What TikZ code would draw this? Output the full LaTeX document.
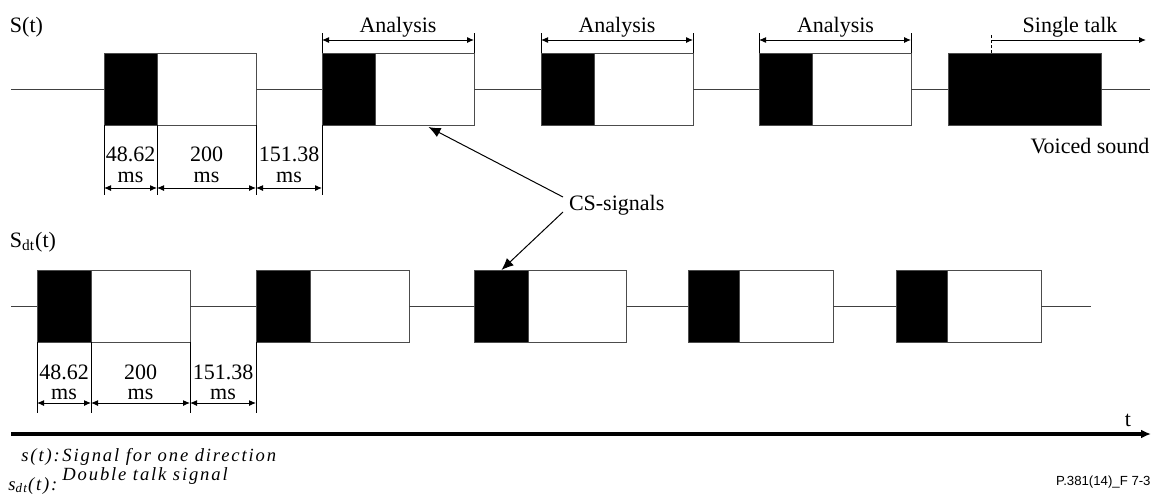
\documentclass[tikz,border=0pt]{standalone}
\usepackage{fontspec}
\setmainfont{Liberation Serif}
\newfontfamily\sansf{Liberation Sans}
\newfontfamily\legf[LetterSpace=10]{Liberation Serif}
\usetikzlibrary{arrows.meta,calc}
\begin{document}
\begin{tikzpicture}[x=0.5pt,y=-0.5pt,
  lbl/.style={font=\fontsize{11}{12}\selectfont, inner sep=0pt, outer sep=0pt},
  leg/.style={anchor=base west, inner sep=0pt, font=\legf\itshape\fontsize{9.3}{10}\selectfont},
  sig/.style={draw=black!75, line width=0.5pt},
  blk/.style={draw=black!70, fill=black, line width=0.5pt, minimum height=36pt, inner sep=0pt, outer sep=0pt, anchor=west},
  wht/.style={draw=black!70, fill=white, line width=0.5pt, minimum height=36pt, inner sep=0pt, outer sep=0pt, anchor=west},
  dimarr/.style={line width=0.5pt, {Latex[length=3.5pt,width=3pt]}-{Latex[length=3.5pt,width=3pt]}},
  extl/.style={line width=0.5pt},
  callout/.style={line width=0.5pt, -{Latex[length=6pt,width=5pt]}}]
\useasboundingbox (0,0) rectangle (1151,493);

% ---------- top row S(t) ----------
\node[lbl, anchor=base west] (St) at (10,32.5) {S(t)};
\coordinate (ts) at (11,89);
\coordinate (te) at (1150,89);
\node[blk, minimum width=26.5pt] (tb1) at (104,89) {};
\node[wht, minimum width=49.5pt] (tw1) at (tb1.east) {};
\node[blk, minimum width=26.5pt] (tb2) at (322,89) {};
\node[wht, minimum width=49.5pt] (tw2) at (tb2.east) {};
\node[blk, minimum width=26.5pt] (tb3) at (541,89) {};
\node[wht, minimum width=49.5pt] (tw3) at (tb3.east) {};
\node[blk, minimum width=26.5pt] (tb4) at (759,89) {};
\node[wht, minimum width=49.5pt] (tw4) at (tb4.east) {};
\node[blk, minimum width=76.5pt] (tb5) at (948,89) {};
\draw[sig] (ts) -- (tb1.west);
\draw[sig] (tw1.east) -- (tb2.west);
\draw[sig] (tw2.east) -- (tb3.west);
\draw[sig] (tw3.east) -- (tb4.west);
\draw[sig] (tw4.east) -- (tb5.west);
\draw[sig] (tb5.east) -- (te);

% dimensions top
\draw[extl] (tb1.south west) -- ++(0,70);
\draw[extl] (tb1.south east) -- ++(0,70);
\draw[extl] (tw1.south east) -- ++(0,70);
\draw[extl] (tb2.south west) -- ++(0,70);
\draw[dimarr] ($(tb1.south west)+(0,63)$) -- ($(tb1.south east)+(0,63)$);
\draw[dimarr] ($(tb1.south east)+(0,63)$) -- ($(tw1.south east)+(0,63)$);
\draw[dimarr] ($(tw1.south east)+(0,63)$) -- ($(tb2.south west)+(0,63)$);
\node[lbl, anchor=base] (td1a) at (130.5,161.5) {48.62};
\node[lbl, anchor=base] (td1b) at (130.5,182) {ms};
\node[lbl, anchor=base] (td2a) at (206.5,161.5) {200};
\node[lbl, anchor=base] (td2b) at (206.5,182) {ms};
\node[lbl, anchor=base] (td3a) at (289,161.5) {151.38};
\node[lbl, anchor=base] (td3b) at (289,182) {ms};

% analysis
\foreach \b/\w/\n in {tb2/tw2/a1, tb3/tw3/a2, tb4/tw4/a3}{
  \draw[extl] (\b.north west) -- ++(0,-20);
  \draw[extl] (\w.north east) -- ++(0,-20);
  \draw[dimarr] ($(\b.north west)+(0,-13)$) -- ($(\w.north east)+(0,-13)$);
}
\node[lbl, anchor=base] (an1) at (398,32.5) {Analysis};
\node[lbl, anchor=base] (an2) at (617,32.5) {Analysis};
\node[lbl, anchor=base] (an3) at (835.5,32.5) {Analysis};

% single talk
\coordinate (stk) at ($(tb5.north west)+(43,0)$);
\coordinate (stt) at ($(stk)+(0,-18)$);
\coordinate (ste) at (1146,40);
\draw[extl, dash pattern=on 1.5pt off 1pt] (stk) -- (stt);
\draw[line width=0.5pt, -{Latex[length=3.5pt,width=3pt]}] ($(stk)+(0,-13)$) -- (ste);
\node[lbl, anchor=base] (stl) at (1070,32.5) {Single talk};
\node[lbl, anchor=base] (vs) at (1090,153.5) {Voiced sound};

% ---------- bottom row S_dt(t) ----------
\node[lbl, anchor=base west] (Sdt) at (10,247.5) {S\textsubscript{dt}(t)};
\coordinate (bs) at (11,306);
\coordinate (be) at (1091,306);
\node[blk, minimum width=27pt] (bb1) at (37,306) {};
\node[wht, minimum width=49.5pt] (bw1) at (bb1.east) {};
\node[blk, minimum width=27pt] (bb2) at (256,306) {};
\node[wht, minimum width=49.5pt] (bw2) at (bb2.east) {};
\node[blk, minimum width=27pt] (bb3) at (474.5,306) {};
\node[wht, minimum width=49pt] (bw3) at (bb3.east) {};
\node[blk, minimum width=25.5pt] (bb4) at (688,306) {};
\node[wht, minimum width=47pt] (bw4) at (bb4.east) {};
\node[blk, minimum width=25.5pt] (bb5) at (896,306) {};
\node[wht, minimum width=47pt] (bw5) at (bb5.east) {};
\draw[sig] (bs) -- (bb1.west);
\draw[sig] (bw1.east) -- (bb2.west);
\draw[sig] (bw2.east) -- (bb3.west);
\draw[sig] (bw3.east) -- (bb4.west);
\draw[sig] (bw4.east) -- (bb5.west);
\draw[sig] (bw5.east) -- (be);

% dimensions bottom
\draw[extl] (bb1.south west) -- ++(0,71);
\draw[extl] (bb1.south east) -- ++(0,71);
\draw[extl] (bw1.south east) -- ++(0,71);
\draw[extl] (bb2.south west) -- ++(0,71);
\draw[dimarr] ($(bb1.south west)+(0,61)$) -- ($(bb1.south east)+(0,61)$);
\draw[dimarr] ($(bb1.south east)+(0,61)$) -- ($(bw1.south east)+(0,61)$);
\draw[dimarr] ($(bw1.south east)+(0,61)$) -- ($(bb2.south west)+(0,61)$);
\node[lbl, anchor=base] (bd1a) at (64,379) {48.62};
\node[lbl, anchor=base] (bd1b) at (64,399) {ms};
\node[lbl, anchor=base] (bd2a) at (140.5,379) {200};
\node[lbl, anchor=base] (bd2b) at (140.5,399) {ms};
\node[lbl, anchor=base] (bd3a) at (223,379) {151.38};
\node[lbl, anchor=base] (bd3b) at (223,399) {ms};

% CS-signals
\node[lbl, anchor=west] (cs) at (569,205) {CS-signals};
\draw[callout] ($(cs.west)+(-6,-8)$) -- ($(tw2.south)+(4,2)$);
\draw[callout] ($(cs.west)+(-6,7)$) -- (bb3.north);

% time axis
\coordinate (ax0) at (11,434);
\coordinate (ax1) at (1151,434);
\draw[line width=2.4pt, -{Latex[length=5pt,width=4.5pt]}] (ax0) -- (ax1);
\node[lbl] (tl) at (1128,420) {t};

% legend
\node[leg] (lg1a) at (21,461) {s(t):};
\node[leg] (lg1b) at (62,461) {Signal for one direction};
\node[leg] (lg2a) at (8,490) {s\textsubscript{dt}(t):};
\node[leg] (lg2b) at (62,480) {Double talk signal};
\node[anchor=east, inner sep=0pt, font=\sansf\fontsize{6.6}{8}\selectfont] (ref) at (1151,482) {P.381(14)\_F 7-3};
\end{tikzpicture}
\end{document}
